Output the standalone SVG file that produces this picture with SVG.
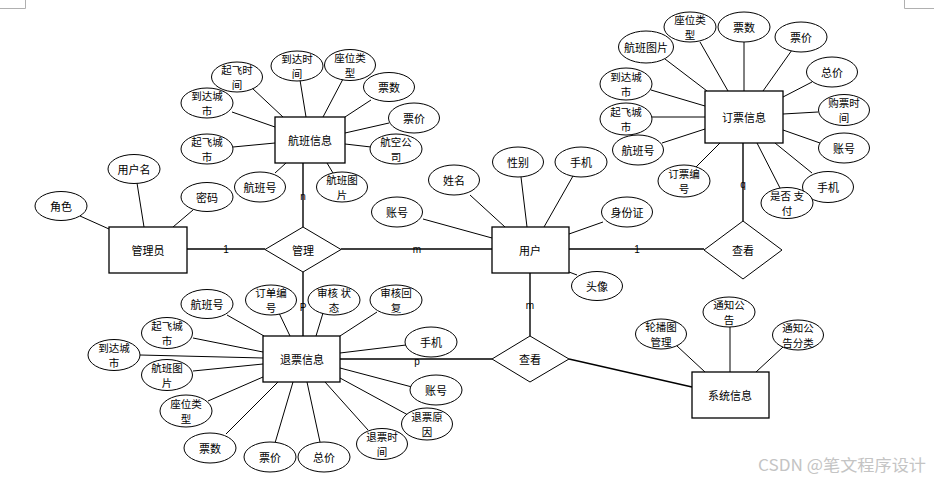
<svg xmlns="http://www.w3.org/2000/svg" width="934" height="481" viewBox="0 0 934 481">
<style>
.e{fill:#fff;stroke:#000;stroke-width:1}
.r{fill:#fff;stroke:#000;stroke-width:1.3}
.d{fill:#fff;stroke:#000;stroke-width:1}
text{font-family:"Noto Sans CJK SC","Noto Sans",sans-serif;font-size:11px;text-anchor:middle;dominant-baseline:central;fill:#000}
text.s{font-size:10.5px}
.k{font-family:"Liberation Sans",sans-serif;font-size:10px}
#connectors line{stroke:#000;stroke-width:1}
#connectors .m{stroke-width:1.4}
.wm{fill:#c4c4c4;font-size:16px;text-anchor:start}
.mark{fill:none;stroke:#b0b0b0;stroke-width:1}
</style>
<rect width="934" height="481" fill="#fff"/>
<polyline class="mark" points="0,8.5 25.5,8.5 25.5,0"/>
<polyline class="mark" points="904.5,0 904.5,8.5 934,8.5"/>
<g id="connectors">
<line class="m" x1="187" y1="249" x2="265" y2="249"/>
<line class="m" x1="341" y1="249" x2="492" y2="249"/>
<line class="m" x1="303" y1="227" x2="303" y2="163"/>
<line class="m" x1="303" y1="272" x2="303" y2="336"/>
<line class="m" x1="569" y1="249" x2="704" y2="249"/>
<line class="m" x1="743" y1="221" x2="743" y2="143"/>
<line class="m" x1="530" y1="273" x2="530" y2="336"/>
<line class="m" x1="492" y1="359" x2="340" y2="359"/>
<line class="m" x1="569" y1="359" x2="692" y2="387"/>
<!-- flight info -->
<line x1="252" y1="88" x2="283" y2="117"/>
<line x1="300" y1="80" x2="306" y2="117"/>
<line x1="343" y1="79" x2="323" y2="117"/>
<line x1="371" y1="100" x2="345" y2="117"/>
<line x1="389" y1="123" x2="345" y2="133"/>
<line x1="371" y1="147" x2="345" y2="144"/>
<line x1="333" y1="173" x2="327" y2="163"/>
<line x1="275" y1="173" x2="286" y2="163"/>
<line x1="233" y1="147" x2="275" y2="143"/>
<line x1="232" y1="112" x2="275" y2="127"/>
<!-- booking info -->
<line x1="700" y1="42" x2="728" y2="91"/>
<line x1="744" y1="42" x2="744" y2="91"/>
<line x1="792" y1="50" x2="763" y2="91"/>
<line x1="812" y1="82" x2="783" y2="97"/>
<line x1="818" y1="112" x2="783" y2="114"/>
<line x1="820" y1="143" x2="783" y2="130"/>
<line x1="812" y1="173" x2="775" y2="143"/>
<line x1="780" y1="188" x2="757" y2="143"/>
<line x1="695" y1="168" x2="720" y2="143"/>
<line x1="662" y1="143" x2="705" y2="129"/>
<line x1="652" y1="117" x2="705" y2="117"/>
<line x1="651" y1="90" x2="705" y2="106"/>
<line x1="665" y1="59" x2="707" y2="91"/>
<!-- admin -->
<line x1="137" y1="183" x2="144" y2="227"/>
<line x1="80" y1="216" x2="109" y2="229"/>
<line x1="193" y1="210" x2="173" y2="227"/>
<!-- user -->
<line x1="470" y1="195" x2="505" y2="227"/>
<line x1="521" y1="177" x2="527" y2="227"/>
<line x1="573" y1="176" x2="544" y2="227"/>
<line x1="603" y1="222" x2="569" y2="234"/>
<line x1="423" y1="219" x2="492" y2="238"/>
<line x1="577" y1="275" x2="569" y2="272"/>
<!-- refund info -->
<line x1="227" y1="315" x2="264" y2="336"/>
<line x1="279" y1="313" x2="290" y2="336"/>
<line x1="193" y1="338" x2="263" y2="352"/>
<line x1="140" y1="355" x2="263" y2="358"/>
<line x1="193" y1="371" x2="263" y2="364"/>
<line x1="208" y1="401" x2="263" y2="377"/>
<line x1="226" y1="434" x2="278" y2="382"/>
<line x1="275" y1="443" x2="293" y2="382"/>
<line x1="320" y1="442" x2="307" y2="382"/>
<line x1="368" y1="430" x2="325" y2="382"/>
<line x1="408" y1="415" x2="340" y2="378"/>
<line x1="412" y1="387" x2="340" y2="368"/>
<line x1="406" y1="345" x2="340" y2="353"/>
<line x1="377" y1="312" x2="340" y2="336"/>
<line x1="323" y1="313" x2="316" y2="336"/>
<!-- system info -->
<line x1="677" y1="346" x2="705" y2="372"/>
<line x1="730" y1="327" x2="730" y2="372"/>
<line x1="783" y1="347" x2="756" y2="372"/>
<text class="k" x="226" y="249">1</text>
<text class="k" x="417" y="249">m</text>
<text class="k" x="303" y="196">n</text>
<text class="k" x="303" y="307">P</text>
<text class="k" x="637" y="249">1</text>
<text class="k" x="743" y="184">q</text>
<text class="k" x="530" y="305">m</text>
<text class="k" x="417" y="361">p</text>
</g>

<g id="admin"><rect class="r" x="109" y="227" width="78" height="46"/><text x="148" y="250">管理员</text></g>
<g id="admin-username"><ellipse class="e" cx="134" cy="169" rx="26" ry="14.5"/><text x="134" y="169">用户名</text></g>
<g id="admin-role"><ellipse class="e" cx="61" cy="206" rx="26" ry="14.5"/><text x="61" y="206">角色</text></g>
<g id="admin-password"><ellipse class="e" cx="207" cy="197" rx="26" ry="14.5"/><text x="207" y="197">密码</text></g>

<g id="manage"><polygon class="d" points="265,249.5 303,227 341,249.5 303,272"/><text x="303" y="249.5">管理</text></g>

<g id="flight"><rect class="r" x="275" y="117" width="70" height="46"/><text x="310" y="140">航班信息</text></g>
<g id="f-deptime"><ellipse class="e" cx="237" cy="77" rx="25.5" ry="15"/><text class="s" x="237" y="69.3">起飞时</text><text class="s" x="237" y="84.7">间</text></g>
<g id="f-arrtime"><ellipse class="e" cx="297" cy="66" rx="26" ry="15"/><text class="s" x="297" y="58.3">到达时</text><text class="s" x="297" y="73.7">间</text></g>
<g id="f-seat"><ellipse class="e" cx="350" cy="65" rx="25.5" ry="15.5"/><text class="s" x="350" y="57.3">座位类</text><text class="s" x="350" y="72.7">型</text></g>
<g id="f-count"><ellipse class="e" cx="389" cy="87" rx="25.5" ry="14.5"/><text x="389" y="87">票数</text></g>
<g id="f-price"><ellipse class="e" cx="414" cy="118" rx="25.5" ry="15"/><text x="414" y="118">票价</text></g>
<g id="f-airline"><ellipse class="e" cx="396" cy="149" rx="26" ry="15"/><text class="s" x="396" y="141.3">航空公</text><text class="s" x="396" y="156.7">司</text></g>
<g id="f-image"><ellipse class="e" cx="342" cy="187" rx="25.5" ry="15"/><text class="s" x="342" y="179.3">航班图</text><text class="s" x="342" y="194.7">片</text></g>
<g id="f-no"><ellipse class="e" cx="260" cy="187" rx="25.5" ry="15"/><text x="260" y="187">航班号</text></g>
<g id="f-depcity"><ellipse class="e" cx="207" cy="149" rx="26" ry="15"/><text class="s" x="207" y="141.3">起飞城</text><text class="s" x="207" y="156.7">市</text></g>
<g id="f-arrcity"><ellipse class="e" cx="207" cy="103" rx="26" ry="15"/><text class="s" x="207" y="95.3">到达城</text><text class="s" x="207" y="110.7">市</text></g>

<g id="user"><rect class="r" x="492" y="227" width="77" height="46"/><text x="530" y="250">用户</text></g>
<g id="u-name"><ellipse class="e" cx="454" cy="180" rx="25.5" ry="15"/><text x="454" y="180">姓名</text></g>
<g id="u-gender"><ellipse class="e" cx="518" cy="162" rx="25.5" ry="15"/><text x="518" y="162">性别</text></g>
<g id="u-phone"><ellipse class="e" cx="581" cy="162" rx="26" ry="15"/><text x="581" y="162">手机</text></g>
<g id="u-idcard"><ellipse class="e" cx="627" cy="212" rx="25.5" ry="15"/><text x="627" y="212">身份证</text></g>
<g id="u-account"><ellipse class="e" cx="397" cy="212" rx="25.5" ry="15"/><text x="397" y="212">账号</text></g>
<g id="u-avatar"><ellipse class="e" cx="597" cy="286" rx="25.5" ry="14.5"/><text x="597" y="286">头像</text></g>

<g id="view-booking"><polygon class="d" points="704,250 743,221 782,250 743,279"/><text x="743" y="250">查看</text></g>

<g id="booking"><rect class="r" x="705" y="91" width="78" height="52"/><text x="744" y="117">订票信息</text></g>
<g id="b-seat"><ellipse class="e" cx="690" cy="27" rx="26" ry="15"/><text class="s" x="690" y="19.3">座位类</text><text class="s" x="690" y="34.7">型</text></g>
<g id="b-count"><ellipse class="e" cx="744" cy="27" rx="26" ry="15"/><text x="744" y="27">票数</text></g>
<g id="b-price"><ellipse class="e" cx="801" cy="37" rx="26" ry="15"/><text x="801" y="37">票价</text></g>
<g id="b-total"><ellipse class="e" cx="832" cy="72" rx="25.5" ry="15"/><text x="832" y="72">总价</text></g>
<g id="b-time"><ellipse class="e" cx="844" cy="110" rx="25.5" ry="15.5"/><text class="s" x="844" y="102.3">购票时</text><text class="s" x="844" y="117.7">间</text></g>
<g id="b-account"><ellipse class="e" cx="844" cy="148" rx="25.5" ry="15"/><text x="844" y="148">账号</text></g>
<g id="b-phone"><ellipse class="e" cx="828" cy="187" rx="25.5" ry="15.5"/><text x="828" y="187">手机</text></g>
<g id="b-paid"><ellipse class="e" cx="787" cy="203" rx="26" ry="15.5"/><text class="s" x="787" y="195.3">是否 支</text><text class="s" x="787" y="210.7">付</text></g>
<g id="b-orderno"><ellipse class="e" cx="684" cy="181" rx="26" ry="16"/><text class="s" x="684" y="173.3">订票编</text><text class="s" x="684" y="188.7">号</text></g>
<g id="b-flightno"><ellipse class="e" cx="638" cy="150" rx="25.5" ry="15"/><text x="638" y="150">航班号</text></g>
<g id="b-depcity"><ellipse class="e" cx="626" cy="119" rx="26" ry="16"/><text class="s" x="626" y="111.3">起飞城</text><text class="s" x="626" y="126.7">市</text></g>
<g id="b-arrcity"><ellipse class="e" cx="626" cy="84" rx="26" ry="16"/><text class="s" x="626" y="76.3">到达城</text><text class="s" x="626" y="91.7">市</text></g>
<g id="b-image"><ellipse class="e" cx="646" cy="47" rx="27.5" ry="16"/><text x="646" y="47">航班图片</text></g>

<g id="refund"><rect class="r" x="263" y="336" width="77" height="46"/><text x="302" y="359">退票信息</text></g>
<g id="r-flightno"><ellipse class="e" cx="207" cy="304" rx="26" ry="14.5"/><text x="207" y="304">航班号</text></g>
<g id="r-orderno"><ellipse class="e" cx="271" cy="300" rx="25.5" ry="15"/><text class="s" x="271" y="292.3">订单编</text><text class="s" x="271" y="307.7">号</text></g>
<g id="r-depcity"><ellipse class="e" cx="167" cy="333" rx="25.5" ry="15.5"/><text class="s" x="167" y="325.3">起飞城</text><text class="s" x="167" y="340.7">市</text></g>
<g id="r-arrcity"><ellipse class="e" cx="114" cy="355" rx="26" ry="15.5"/><text class="s" x="114" y="347.3">到达城</text><text class="s" x="114" y="362.7">市</text></g>
<g id="r-image"><ellipse class="e" cx="167" cy="375" rx="25.5" ry="15.5"/><text class="s" x="167" y="367.3">航班图</text><text class="s" x="167" y="382.7">片</text></g>
<g id="r-seat"><ellipse class="e" cx="186" cy="411" rx="26" ry="16"/><text class="s" x="186" y="403.3">座位类</text><text class="s" x="186" y="418.7">型</text></g>
<g id="r-count"><ellipse class="e" cx="210" cy="448" rx="26" ry="15"/><text x="210" y="448">票数</text></g>
<g id="r-price"><ellipse class="e" cx="270" cy="457" rx="26" ry="15"/><text x="270" y="457">票价</text></g>
<g id="r-total"><ellipse class="e" cx="324" cy="457" rx="26" ry="15"/><text x="324" y="457">总价</text></g>
<g id="r-time"><ellipse class="e" cx="382" cy="444" rx="25.5" ry="15.5"/><text class="s" x="382" y="436.3">退票时</text><text class="s" x="382" y="451.7">间</text></g>
<g id="r-reason"><ellipse class="e" cx="427" cy="424" rx="25.5" ry="16"/><text class="s" x="427" y="416.3">退票原</text><text class="s" x="427" y="431.7">因</text></g>
<g id="r-account"><ellipse class="e" cx="436" cy="390" rx="26" ry="15"/><text x="436" y="390">账号</text></g>
<g id="r-phone"><ellipse class="e" cx="431" cy="342" rx="26" ry="15"/><text x="431" y="342">手机</text></g>
<g id="r-reply"><ellipse class="e" cx="396" cy="300" rx="26" ry="15"/><text class="s" x="396" y="292.3">审核回</text><text class="s" x="396" y="307.7">复</text></g>
<g id="r-status"><ellipse class="e" cx="334" cy="300" rx="26" ry="15"/><text class="s" x="334" y="292.3">审核 状</text><text class="s" x="334" y="307.7">态</text></g>

<g id="view-system"><polygon class="d" points="492,359 530,336 569,359 530,382"/><text x="530" y="359">查看</text></g>

<g id="system"><rect class="r" x="692" y="372" width="77" height="46"/><text x="730" y="395">系统信息</text></g>
<g id="s-carousel"><ellipse class="e" cx="661" cy="334" rx="25.5" ry="15"/><text class="s" x="661" y="326.3">轮播图</text><text class="s" x="661" y="341.7">管理</text></g>
<g id="s-notice"><ellipse class="e" cx="729" cy="312" rx="26" ry="15"/><text class="s" x="729" y="304.3">通知公</text><text class="s" x="729" y="319.7">告</text></g>
<g id="s-noticecat"><ellipse class="e" cx="798" cy="335" rx="25.5" ry="15"/><text class="s" x="798" y="327.3">通知公</text><text class="s" x="798" y="342.7">告分类</text></g>

<text class="wm" x="758" y="464" textLength="168" lengthAdjust="spacingAndGlyphs">CSDN @笔文程序设计</text>
</svg>
